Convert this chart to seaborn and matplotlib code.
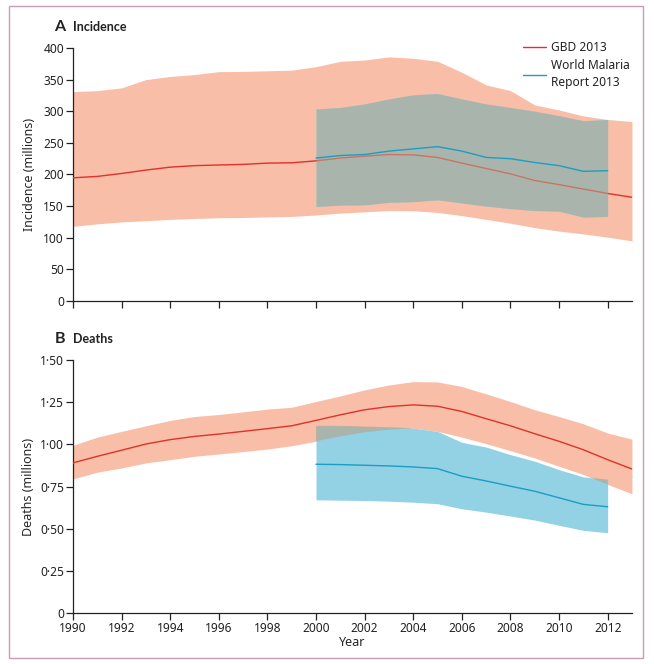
import numpy as np
import pandas as pd
import matplotlib
matplotlib.use("Agg")
import matplotlib.pyplot as plt
from matplotlib.patches import Rectangle
from matplotlib.ticker import FuncFormatter
import seaborn as sns

# years
years_gbd = list(range(1990, 2014))
years_wmr = list(range(2000, 2013))

# incidence (millions) - GBD 2013
inc_gbd = [194.7, 197, 201.6, 207, 211.6, 214, 215, 216, 218, 218.5, 221.6, 226,
           229, 231.6, 231, 227, 218, 209.5, 201, 190.5, 184, 177, 170, 164]
inc_gbd_hi = [331, 332.6, 337, 350, 355, 358, 362.6, 363, 364, 365, 370.5, 379,
              381, 386, 383.7, 379, 361.6, 341.6, 332.6, 310, 302, 292.6, 287, 283.7]
inc_gbd_lo = [118, 122, 125, 127, 129, 130.5, 131.6, 132, 133, 133.7, 136, 139,
              141, 143, 142.6, 140, 135, 129, 123, 116, 110.5, 106, 101, 95]

# incidence - World Malaria Report 2013
inc_wmr = [226, 230, 231.6, 237, 240.5, 244, 237, 227, 225, 219, 214, 205, 206]
inc_wmr_hi = [303.7, 306, 311.6, 319.5, 326, 328, 319.5, 311.6, 306, 300, 293, 285, 287]
inc_wmr_lo = [149.5, 151.6, 152, 156, 157, 160, 155, 150, 146, 143, 142, 132.6, 133.7]

# deaths (millions) - GBD 2013
dth_gbd = [0.89, 0.929, 0.965, 1.002, 1.028, 1.047, 1.061, 1.077, 1.093, 1.11, 1.142, 1.175,
           1.205, 1.224, 1.234, 1.226, 1.195, 1.152, 1.11, 1.063, 1.018, 0.968, 0.909, 0.854]
dth_gbd_hi = [0.994, 1.043, 1.077, 1.11, 1.142, 1.165, 1.177, 1.193, 1.209, 1.22, 1.254, 1.287,
              1.323, 1.352, 1.372, 1.37, 1.343, 1.299, 1.254, 1.205, 1.165, 1.122, 1.067, 1.031]
dth_gbd_lo = [0.795, 0.835, 0.86, 0.89, 0.909, 0.929, 0.943, 0.957, 0.972, 0.992, 1.018, 1.047,
              1.071, 1.087, 1.096, 1.077, 1.043, 1.004, 0.963, 0.919, 0.87, 0.821, 0.762, 0.707]

# deaths - World Malaria Report 2013
dth_wmr = [0.882, 0.88, 0.876, 0.872, 0.866, 0.856, 0.811, 0.783, 0.752, 0.722, 0.683, 0.644, 0.63]
dth_wmr_hi = [1.11, 1.11, 1.106, 1.102, 1.096, 1.077, 1.012, 0.984, 0.939, 0.9, 0.85, 0.807, 0.791]
dth_wmr_lo = [0.671, 0.669, 0.667, 0.663, 0.657, 0.648, 0.618, 0.598, 0.575, 0.551, 0.52, 0.49, 0.476]

RED = "#e2302a"
TEAL = "#1a9ec3"
SALMON = "#f9bea7"
BLUE = "#93d1e5"
GREY = "#b9a289"

sns.set_style("ticks")
plt.rcParams["font.family"] = ["Noto Sans", "DejaVu Sans"]
plt.rcParams["axes.edgecolor"] = "#222222"
plt.rcParams["xtick.color"] = "#222222"
plt.rcParams["ytick.color"] = "#222222"
plt.rcParams["text.color"] = "#222222"

fig = plt.figure(figsize=(6.54, 6.64), dpi=100)
ax1 = fig.add_axes([0.1116, 0.5467, 0.8547, 0.381])
ax2 = fig.add_axes([0.1116, 0.0768, 0.8547, 0.381])


def draw(ax, mid, hi, lo, wmid, whi, wlo):
    g = pd.DataFrame({"Year": years_gbd, "mid": mid, "hi": hi, "lo": lo})
    w = pd.DataFrame({"Year": years_wmr, "mid": wmid, "hi": whi, "lo": wlo})
    ax.fill_between(g["Year"], g["lo"], g["hi"], color=SALMON, lw=0, zorder=1)
    ax.fill_between(w["Year"], w["lo"], w["hi"], color=BLUE, lw=0, zorder=2)
    sns.lineplot(data=g, x="Year", y="mid", color=RED, lw=1.0, ax=ax, zorder=3,
                 label="GBD 2013")
    # overlap of the two uncertainty bands
    gs = g[g["Year"].isin(years_wmr)].reset_index(drop=True)
    top = np.minimum(gs["hi"], w["hi"])
    bot = np.maximum(gs["lo"], w["lo"])
    ax.fill_between(w["Year"], bot, top, where=top > bot, interpolate=True,
                    color=GREY, alpha=0.6, lw=0, zorder=4)
    sns.lineplot(data=w, x="Year", y="mid", color=TEAL, lw=1.0, ax=ax, zorder=5,
                 label="World Malaria\nReport 2013")
    ax.set_xlim(1990, 2013)
    ax.set_xticks(range(1990, 2013, 2))
    sns.despine(ax=ax)
    ax.tick_params(length=5, width=0.9, labelsize=8.6, pad=1.5)
    for s in ax.spines.values():
        s.set_linewidth(0.9)


draw(ax1, inc_gbd, inc_gbd_hi, inc_gbd_lo, inc_wmr, inc_wmr_hi, inc_wmr_lo)
draw(ax2, dth_gbd, dth_gbd_hi, dth_gbd_lo, dth_wmr, dth_wmr_hi, dth_wmr_lo)

ax1.set_ylim(0, 400)
ax1.set_yticks(range(0, 401, 50))
ax1.set_xticklabels([])
ax1.set_xlabel("")
ax1.set_ylabel("Incidence (millions)", fontsize=9, labelpad=5)
leg = ax1.legend(loc="upper right", bbox_to_anchor=(1.005, 1.045), frameon=False,
                 fontsize=8.6, handlelength=2.0, handletextpad=0.4, borderaxespad=0,
                 labelspacing=0.35)
leg.get_texts()[1].set_linespacing(1.45)

ax2.set_ylim(0, 1.5)
ax2.set_yticks([0, 0.25, 0.5, 0.75, 1.0, 1.25, 1.5])
ax2.yaxis.set_major_formatter(FuncFormatter(
    lambda v, p: "0" if v == 0 else f"{v:.2f}".replace(".", "\u00b7")))
ax2.set_xlabel("Year", fontsize=9, labelpad=1)
ax2.set_ylabel("Deaths (millions)", fontsize=9, labelpad=4)
ax2.get_legend().remove()

title_font = ["Lato", "DejaVu Sans"]
fig.text(0.083, 0.953, "A", fontsize=11.5, fontweight="bold", va="baseline", family=title_font)
fig.text(0.112, 0.953, "Incidence", fontsize=9, fontweight="bold", va="baseline", family=title_font)
fig.text(0.083, 0.483, "B", fontsize=11.5, fontweight="bold", va="baseline", family=title_font)
fig.text(0.112, 0.483, "Deaths", fontsize=9, fontweight="bold", va="baseline", family=title_font)

fig.patches.append(Rectangle((9 / 654, 6 / 664), 634 / 654, 652 / 664,
                             transform=fig.transFigure, fill=False,
                             edgecolor="#c99bb6", lw=1.0))

fig.savefig("out.png", dpi=100)
